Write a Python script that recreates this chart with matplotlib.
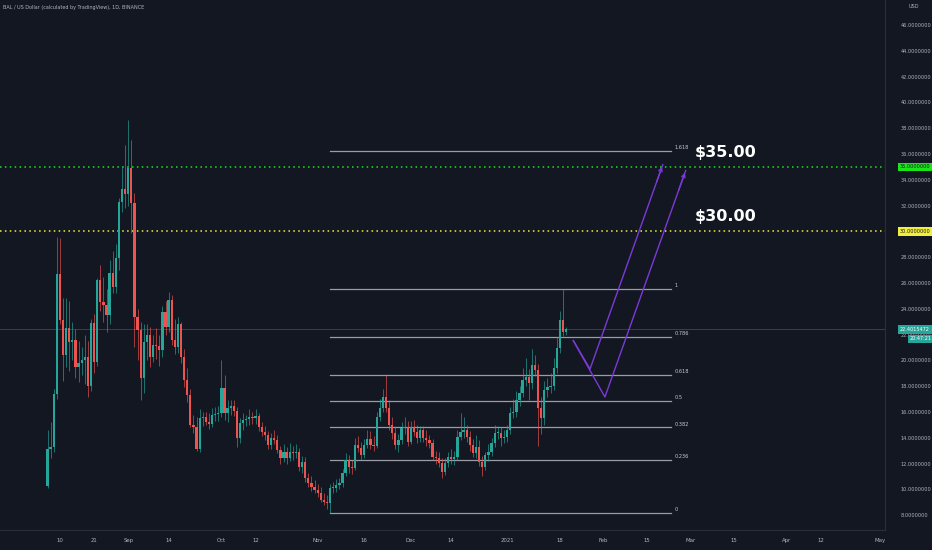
import matplotlib
matplotlib.use('Agg')
import matplotlib.pyplot as plt
import numpy as np
import pandas as pd

# ---------------- data ----------------
origin = pd.Timestamp('2020-08-01')
first_candle = '2020-08-06'

opens = [10.3, 13.1, 13.3, 17.4, 26.7, 23.1, 20.4, 22.5, 21.4, 21.6,
         19.5, 19.8, 20.0, 20.3, 18.0, 22.9, 19.9, 26.2, 24.5, 24.3,
         23.5, 26.8, 25.7, 27.9, 32.3, 33.3, 32.9, 34.9, 32.2, 23.4,
         22.35, 18.6, 21.45, 21.97, 20.29, 21.19, 21.1, 20.8, 23.78, 22.6,
         24.7, 21.6, 21.06, 22.8, 20.3, 18.5, 17.3, 15.0, 14.8, 13.1,
         15.5, 15.6, 15.25, 15.1, 15.8, 15.82, 15.9, 17.83, 15.9, 16.28,
         16.46, 16.1, 13.96, 15.12, 15.38, 15.43, 15.64, 15.51, 15.69, 14.86,
         14.47, 14.2, 13.44, 13.96, 13.83, 13.06, 12.41, 12.92, 12.41, 12.92,
         12.79, 12.9, 11.76, 12.15, 10.86, 10.47, 10.21, 9.95, 9.69, 9.18,
         9.05, 8.92, 10.08, 10.1, 10.34, 10.47, 11.24, 12.28, 11.76, 11.63,
         13.44, 13.18, 12.66, 13.44, 13.88, 13.44, 13.36, 15.64, 16.28, 17.19,
         16.28, 14.99, 14.34, 13.44, 13.83, 14.73, 14.86, 13.7, 14.86, 14.47,
         13.96, 14.6, 13.96, 13.83, 13.57, 12.54, 12.41, 12.02, 11.38, 12.02,
         12.54, 12.33, 12.54, 14.09, 14.48, 14.61, 14.09, 13.44, 12.8, 13.31,
         12.15, 11.77, 12.67, 12.93, 13.62, 14.35, 14.4, 13.96, 14.09, 14.61,
         15.9, 16.03, 16.93, 17.5, 18.48, 18.74, 18.22, 19.65, 19.26, 16.29,
         15.51, 17.71, 17.97, 18.0, 19.39, 20.94, 23.13, 22.23]
highs = [14.6, 15.2, 17.8, 29.6, 29.5, 24.8, 24.8, 24.6, 23.0, 22.4,
         21.5, 21.0, 22.0, 21.5, 23.2, 23.6, 26.4, 27.4, 26.5, 25.5,
         27.8, 28.5, 29.0, 32.6, 35.1, 36.7, 38.6, 37.1, 33.0, 24.0,
         23.0, 22.8, 22.8, 22.6, 22.0, 22.5, 22.0, 24.2, 24.6, 25.3,
         25.1, 23.2, 23.4, 23.0, 20.9, 19.4, 17.8, 15.8, 15.6, 16.2,
         16.0, 16.0, 15.9, 16.3, 16.4, 16.5, 20.0, 18.9, 16.9, 16.9,
         16.9, 16.4, 15.5, 15.9, 15.8, 16.2, 16.0, 16.2, 15.9, 15.2,
         14.9, 14.5, 14.4, 14.6, 14.2, 13.4, 13.5, 13.3, 13.6, 13.4,
         13.5, 13.2, 12.6, 12.5, 11.3, 11.0, 10.7, 10.4, 10.2, 9.7,
         9.6, 10.4, 10.6, 10.8, 10.9, 11.6, 12.8, 12.7, 12.3, 14.0,
         14.1, 13.7, 13.9, 14.6, 14.5, 14.1, 16.0, 17.0, 17.8, 18.87,
         16.9, 15.6, 14.8, 14.3, 15.2, 15.6, 15.3, 15.3, 15.4, 15.0,
         14.9, 14.9, 14.6, 14.2, 13.9, 13.0, 12.9, 12.4, 12.4, 12.9,
         13.1, 13.0, 14.6, 15.9, 15.6, 15.0, 14.5, 13.9, 14.2, 13.8,
         12.6, 12.9, 13.5, 14.0, 15.0, 14.9, 14.8, 14.6, 15.0, 16.4,
         17.0, 17.6, 18.0, 19.4, 20.2, 19.3, 20.9, 20.4, 19.7, 17.2,
         18.4, 18.6, 19.0, 20.2, 21.8, 23.8, 25.53, 22.6]
lows = [10.1, 12.4, 12.9, 17.0, 22.8, 18.4, 19.5, 19.2, 20.0, 18.6,
        18.3, 18.9, 18.2, 17.2, 17.6, 19.0, 19.6, 23.8, 23.0, 22.2,
        22.8, 25.2, 25.2, 27.0, 31.5, 31.8, 32.0, 29.9, 21.0, 20.0,
        16.9, 17.5, 20.0, 19.5, 19.9, 20.1, 19.6, 20.3, 22.0, 22.2,
        21.2, 20.5, 20.6, 19.8, 17.9, 16.8, 14.8, 14.4, 13.0, 12.9,
        14.9, 15.0, 14.7, 14.8, 15.3, 15.3, 15.6, 15.4, 15.2, 15.8,
        15.7, 13.3, 13.6, 14.6, 14.9, 15.0, 15.1, 15.1, 14.5, 14.1,
        13.8, 13.1, 13.1, 13.5, 12.8, 12.0, 12.1, 12.0, 12.2, 12.3,
        12.4, 11.4, 11.3, 10.6, 10.2, 9.9, 9.7, 9.4, 9.0, 8.8,
        8.5, 8.17, 9.7, 9.8, 10.0, 10.2, 11.0, 11.3, 11.2, 11.5,
        12.9, 12.3, 12.4, 13.2, 13.1, 13.0, 13.2, 15.3, 16.0, 16.0,
        14.6, 13.9, 13.1, 12.9, 13.5, 14.3, 13.4, 13.5, 14.1, 13.6,
        13.7, 13.7, 13.4, 13.2, 12.3, 12.0, 11.7, 10.9, 11.1, 11.7,
        12.0, 11.9, 12.3, 13.8, 14.0, 13.7, 13.0, 12.5, 12.4, 11.8,
        11.0, 11.5, 12.2, 12.6, 13.3, 13.9, 13.4, 13.6, 13.7, 14.3,
        15.5, 15.6, 16.5, 17.2, 18.0, 16.9, 17.8, 18.8, 13.4, 14.3,
        15.0, 17.2, 17.5, 17.7, 19.0, 20.6, 21.9, 22.0]
closes = [13.1, 13.3, 17.4, 26.7, 23.1, 20.4, 22.5, 21.4, 21.6, 19.5,
          19.8, 20.0, 20.3, 18.0, 22.9, 19.9, 26.2, 24.5, 24.3, 23.5,
          26.8, 25.7, 27.9, 32.3, 33.3, 32.9, 34.9, 32.2, 23.4, 22.35,
          18.6, 21.45, 21.97, 20.29, 21.19, 21.1, 20.8, 23.78, 22.6, 24.7,
          21.6, 21.06, 22.8, 20.3, 18.5, 17.3, 15.0, 14.8, 13.1, 15.5,
          15.6, 15.25, 15.1, 15.8, 15.82, 15.9, 17.83, 15.9, 16.28, 16.46,
          16.1, 13.96, 15.12, 15.38, 15.43, 15.64, 15.51, 15.69, 14.86, 14.47,
          14.2, 13.44, 13.96, 13.83, 13.06, 12.41, 12.92, 12.41, 12.92, 12.79,
          12.9, 11.76, 12.15, 10.86, 10.47, 10.21, 9.95, 9.69, 9.18, 9.05,
          8.92, 10.08, 10.1, 10.34, 10.47, 11.24, 12.28, 11.76, 11.63, 13.44,
          13.18, 12.66, 13.44, 13.88, 13.44, 13.36, 15.64, 16.28, 17.19, 16.28,
          14.99, 14.34, 13.44, 13.83, 14.73, 14.86, 13.7, 14.86, 14.47, 13.96,
          14.6, 13.96, 13.83, 13.57, 12.54, 12.41, 12.02, 11.38, 12.02, 12.54,
          12.33, 12.54, 14.09, 14.48, 14.61, 14.09, 13.44, 12.8, 13.31, 12.15,
          11.77, 12.67, 12.93, 13.62, 14.35, 14.4, 13.96, 14.09, 14.61, 15.9,
          16.03, 16.93, 17.5, 18.48, 18.74, 18.22, 19.65, 19.26, 16.29, 15.51,
          17.71, 17.97, 18.0, 19.39, 20.94, 23.13, 22.23, 22.40]

fib_ratios = [0, 0.236, 0.382, 0.5, 0.618, 0.786, 1, 1.618]
fib_labels = ['0', '0.236', '0.382', '0.5', '0.618', '0.786', '1', '1.618']
fib_low = 8.17
fib_high = 25.53
fib_start = '2020-11-05'
fib_end = '2021-02-22 18:00'

level_prices = [35.0, 30.0]
level_texts = ['$35.00', '$30.00']
level_axis_labels = ['35.0000000', '30.0000000']
level_colors = ['#19e619', '#f2ee3c']

last_price = 22.4015472
last_price_label = '22.4015472'
countdown = '20:47:21'

path_a_times = ['2021-01-22 05:00', '2021-01-27 17:00', '2021-02-20 05:00']
path_a_prices = [21.58, 19.33, 35.22]
path_b_times = ['2021-01-22 05:00', '2021-02-01 12:00', '2021-02-27 14:00']
path_b_prices = [21.58, 17.16, 34.76]

x_tick_dates = ['2020-08-10', '2020-08-21', '2020-09-01', '2020-09-14', '2020-10-01',
                '2020-10-12', '2020-11-01', '2020-11-16', '2020-12-01', '2020-12-14',
                '2021-01-01', '2021-01-18', '2021-02-01', '2021-02-15', '2021-03-01',
                '2021-03-15', '2021-04-01', '2021-04-12', '2021-05-01']
x_tick_labels = ['10', '21', 'Sep', '14', 'Oct', '12', 'Nov', '16', 'Dec', '14',
                 '2021', '18', 'Feb', '15', 'Mar', '15', 'Apr', '12', 'May']
y_ticks = list(range(8, 48, 2))

# ---------------- helpers ----------------
def dnum(s):
    return (pd.Timestamp(s) - origin) / pd.Timedelta(days=1)

BG = '#131722'
TXT = '#b2b5be'
UP = '#26a69a'
DN = '#ef5350'
PURPLE = '#7b3ad8'

fig = plt.figure(figsize=(9.32, 5.5), dpi=100, facecolor=BG)
ax = fig.add_axes([0, 20 / 550, 885 / 932, 530 / 550])
ax.set_facecolor(BG)

o = np.array(opens); h = np.array(highs); l = np.array(lows); c = np.array(closes)
x = dnum(first_candle) + np.arange(len(o))
up = c >= o
cols = np.where(up, UP, DN)

ax.vlines(x, l, h, colors=cols, linewidth=0.6, alpha=0.75, zorder=3)
body_bottom = np.minimum(o, c)
body_h = np.maximum(np.abs(c - o), 0.07)
ax.bar(x, body_h, bottom=body_bottom, width=0.72, color=cols, linewidth=0, zorder=4)

# last price line
ax.axhline(last_price, color='#3b3f4b', linewidth=0.7, zorder=1)

# fib retracement
fx0, fx1 = dnum(fib_start), dnum(fib_end)
for r, lab in zip(fib_ratios, fib_labels):
    p = fib_low + r * (fib_high - fib_low)
    ax.plot([fx0, fx1], [p, p], color='#9a9ca6', linewidth=0.9, zorder=2)
    ax.text(fx1 + 1.2, p + 0.25, lab, color='#c8cad0', fontsize=3.6,
            va='center', ha='left', zorder=5)

# horizontal dotted levels
for p, col in zip(level_prices, level_colors):
    ax.axhline(p, color=col, linewidth=1.1, linestyle=(0, (1, 2.2)), zorder=2)

for p, t in zip(level_prices, level_texts):
    ax.text(dnum('2021-03-02 12:00'), p + 1.15, t, color='white', fontsize=11.5,
            fontweight='bold', va='center', ha='left', zorder=6)

# projection paths
for times, prices in ((path_a_times, path_a_prices), (path_b_times, path_b_prices)):
    px = [dnum(t) for t in times]
    ax.plot(px, prices, color=PURPLE, linewidth=1.0, zorder=5, solid_capstyle='butt')
    ax.annotate('', xy=(px[-1], prices[-1]), xytext=(px[-2] + (px[-1] - px[-2]) * 0.9,
                                                        prices[-2] + (prices[-1] - prices[-2]) * 0.9),
                arrowprops=dict(arrowstyle='->', color=PURPLE, lw=1.0,
                                mutation_scale=6), zorder=5)

# axes limits and ticks
ax.set_xlim(-10.3, 274.7)
ax.set_ylim(6.85, 47.94)
ax.set_xticks([dnum(d) for d in x_tick_dates])
ax.set_xticklabels(x_tick_labels)
ax.yaxis.tick_right()
ax.set_yticks(y_ticks)
ax.set_yticklabels(['%.7f' % v for v in y_ticks])
ax.tick_params(axis='both', length=0, colors=TXT, labelsize=3.6)
ax.tick_params(axis='y', pad=11)
ax.tick_params(axis='x', pad=6, labelsize=3.9)
for s in ('top', 'left'):
    ax.spines[s].set_visible(False)
for s in ('right', 'bottom'):
    ax.spines[s].set_color('#2a2e39')
    ax.spines[s].set_linewidth(0.8)
ax.grid(False)

# right-axis value boxes
for p, lab, col in zip(level_prices, level_axis_labels, level_colors):
    ax.annotate(lab, xy=(1.017, p), xycoords=('axes fraction', 'data'),
                fontsize=3.6, color='#131722', va='center', ha='left',
                bbox=dict(boxstyle='square,pad=0.35', fc=col, ec='none'),
                annotation_clip=False, zorder=10)
ax.annotate(last_price_label, xy=(1.017, last_price), xycoords=('axes fraction', 'data'),
            fontsize=3.6, color='white', va='center', ha='left',
            bbox=dict(boxstyle='square,pad=0.35', fc=UP, ec='none'),
            annotation_clip=False, zorder=10)
ax.annotate(countdown, xy=(1.028, last_price - 0.72), xycoords=('axes fraction', 'data'),
            fontsize=3.5, color='white', va='center', ha='left',
            bbox=dict(boxstyle='square,pad=0.3', fc=UP, ec='none'),
            annotation_clip=False, zorder=10)

# header texts
fig.text(3 / 932, 1 - 7 / 550, 'BAL / US Dollar (calculated by TradingView), 1D, BINANCE',
         color=TXT, fontsize=3.5, va='center', ha='left')
fig.text(914 / 932, 1 - 7 / 550, 'USD', color=TXT, fontsize=3.6, va='center', ha='center')

fig.savefig('out.png', dpi=100, facecolor=BG)
